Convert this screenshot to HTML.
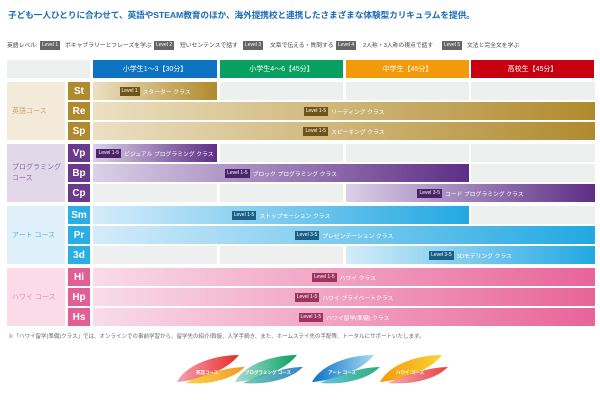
<!DOCTYPE html>
<html><head><meta charset="utf-8">
<style>
*{margin:0;padding:0;box-sizing:border-box}
body{width:600px;height:400px;background:#fff;position:relative;overflow:hidden;font-family:"Liberation Sans","Noto Sans CJK JP",sans-serif}
.a{position:absolute}
.title{left:8px;top:8px;font-size:8.7px;color:#1a6bb8;font-weight:bold;white-space:nowrap;letter-spacing:-0.1px}
.lt{top:42px;font-size:5.8px;color:#444;white-space:nowrap;line-height:8px}
.badge{top:41px;height:9px;background:#666;color:#fff;font-size:5px;line-height:9px;padding:0 2px;white-space:nowrap}
.hd{top:60px;height:18px;color:#fff;font-size:7px;display:flex;align-items:center;justify-content:center}
.grp{left:7px;width:58px;font-size:7px;display:flex;align-items:center;padding-left:5px;line-height:11px}
.code{left:68px;width:22px;height:18px;color:#fff;font-weight:bold;font-size:10px;display:flex;align-items:center;justify-content:center}
.cell{height:18px;background:#eeefef}
.bar{height:18px;display:flex;align-items:center;justify-content:center;color:#fff;font-size:5.8px;white-space:nowrap}
.bar .b{font-size:5px;padding:1px 2px;margin-right:3px;line-height:7px;color:#fff}
.foot{left:8px;top:332px;font-size:5.5px;color:#666;white-space:nowrap}
</style></head><body>
<div class="a title">子ども一人ひとりに合わせて、英語やSTEAM教育のほか、海外提携校と連携したさまざまな体験型カリキュラムを提供。</div>
<div class="a lt" style="left:7px">英語レベル:</div>
<div class="a badge" style="left:40px">Level 1</div>
<div class="a lt" style="left:65px">ボキャブラリーとフレーズを学ぶ</div>
<div class="a badge" style="left:154px">Level 2</div>
<div class="a lt" style="left:180px">短いセンテンスで話す</div>
<div class="a badge" style="left:243px">Level 3</div>
<div class="a lt" style="left:270px">文章で伝える・質問する</div>
<div class="a badge" style="left:336px">Level 4</div>
<div class="a lt" style="left:363px">2人称・3人称の視点で話す</div>
<div class="a badge" style="left:442px">Level 5</div>
<div class="a lt" style="left:467px">文法と完全文を学ぶ</div>

<div class="a hd" style="left:7px;width:83px;background:#eeefef"></div>
<div class="a hd" style="left:93px;width:124px;background:#0c72c2">小学生1〜3【30分】</div>
<div class="a hd" style="left:220px;width:123px;background:#08a060">小学生4〜6【45分】</div>
<div class="a hd" style="left:346px;width:123px;background:#f39a0a">中学生【45分】</div>
<div class="a hd" style="left:471px;width:123px;background:#c8000f">高校生【45分】</div>

<div id="grid"></div>
<div class="a foot">※「ハワイ留学(準備)クラス」では、オンラインでの事前学習から、留学先の紹介/斡旋、入学手続き、また、ホームステイ先の手配等、トータルにサポートいたします。</div>

<svg class="a" style="left:0;top:345px" width="600" height="45">
<defs>
<linearGradient id="g1" x1="0" x2="1"><stop offset="0" stop-color="#f4a0b0"/><stop offset="1" stop-color="#e52d27"/></linearGradient>
<linearGradient id="g1b" x1="0" x2="1"><stop offset="0" stop-color="#fbd235"/><stop offset="1" stop-color="#f28b0c"/></linearGradient>
<linearGradient id="g2" x1="0" x2="1"><stop offset="0" stop-color="#a8dcd4"/><stop offset="1" stop-color="#08a060"/></linearGradient>
<linearGradient id="g2b" x1="0" x2="1"><stop offset="0" stop-color="#5fc0a0"/><stop offset="1" stop-color="#0c72c2"/></linearGradient>
<linearGradient id="g3" x1="0" x2="1"><stop offset="0" stop-color="#0c72c2"/><stop offset="1" stop-color="#a8d8f4"/></linearGradient>
<linearGradient id="g3b" x1="0" x2="1"><stop offset="0" stop-color="#4fb8e0"/><stop offset="1" stop-color="#08a060"/></linearGradient>
<linearGradient id="g4" x1="0" x2="1"><stop offset="0" stop-color="#f39a0a"/><stop offset="1" stop-color="#fbd235"/></linearGradient>
<linearGradient id="g4b" x1="0" x2="1"><stop offset="0" stop-color="#f4a0b0"/><stop offset="1" stop-color="#e52d27"/></linearGradient>
</defs>
<g transform="translate(177,10)"><path d="M0,27 C10,8 40,0 62,0 C50,15 25,25 0,27Z" fill="url(#g1)"/><path d="M8,28 C25,20 50,12 68,12 C55,25 30,30 8,28Z" fill="url(#g1b)" opacity=".9"/><text x="30" y="19" font-size="4.5" fill="#fff" text-anchor="middle" font-family="Liberation Sans,Noto Sans CJK JP,sans-serif" font-weight="bold">英語コース</text></g>
<g transform="translate(235,10)"><path d="M0,27 C10,8 40,0 62,0 C50,15 25,25 0,27Z" fill="url(#g2)"/><path d="M8,28 C25,20 50,12 68,12 C55,25 30,30 8,28Z" fill="url(#g2b)" opacity=".85"/><text x="33" y="19" font-size="4.5" fill="#fff" text-anchor="middle" font-family="Liberation Sans,Noto Sans CJK JP,sans-serif" font-weight="bold">プログラミング コース</text></g>
<g transform="translate(312,10)"><path d="M0,27 C10,8 40,0 62,0 C50,15 25,25 0,27Z" fill="url(#g3)"/><path d="M8,28 C25,20 50,12 68,12 C55,25 30,30 8,28Z" fill="url(#g3b)" opacity=".85"/><text x="30" y="19" font-size="4.5" fill="#fff" text-anchor="middle" font-family="Liberation Sans,Noto Sans CJK JP,sans-serif" font-weight="bold">アート コース</text></g>
<g transform="translate(380,10)"><path d="M0,27 C10,8 40,0 62,0 C50,15 25,25 0,27Z" fill="url(#g4)"/><path d="M8,28 C25,20 50,12 68,12 C55,25 30,30 8,28Z" fill="url(#g4b)" opacity=".9"/><text x="30" y="19" font-size="4.5" fill="#fff" text-anchor="middle" font-family="Liberation Sans,Noto Sans CJK JP,sans-serif" font-weight="bold">ハワイ コース</text></g>
</svg>

<script>
const groupNames=["英語コース","プログラミング\nコース","アート コース","ハワイ コース"];
const groupKeys=["english","programming","art","hawaii"];
const codes=["St","Re","Sp","Vp","Bp","Cp","Sm","Pr","3d","Hi","Hp","Hs"];
const barStart=[0,0,0,0,0,2,0,0,2,0,0,0];
const barEnd=[0,3,3,0,2,3,2,3,3,3,3,3];
const levels=["Level 1","Level 1-5","Level 1-5","Level 1-5","Level 1-5","Level 3-5","Level 1-5","Level 3-5","Level 3-5","Level 1-5","Level 1-5","Level 1-5"];
const classNames=["スターター クラス","リーディング クラス","スピーキング クラス","ビジュアル プログラミング クラス","ブロック プログラミング クラス","コード プログラミング クラス","ストップモーション クラス","プレゼンテーション クラス","3Dモデリング クラス","ハワイ クラス","ハワイ プライベートクラス","ハワイ留学(準備) クラス"];
const theme=[
 {code:"#b08a2e",bg:"#f3ead9",txt:"#c9a86a",from:"#ece0c2",to:"#b08a2e",badge:"#6e5418"},
 {code:"#6a3a8c",bg:"#e3d7ea",txt:"#8a65a8",from:"#dcd0e8",to:"#5e2e86",badge:"#4a2468"},
 {code:"#2aaee3",bg:"#dff0fb",txt:"#4fb8e8",from:"#d4ecfa",to:"#22a8e2",badge:"#1a5f86"},
 {code:"#e25f95",bg:"#fadbe7",txt:"#ec8fb5",from:"#f9dce8",to:"#e8649a",badge:"#9b3460"}];
const colX=[93,220,346,471], colW=[124,123,123,124];
const grid=document.getElementById('grid');
function rowY(i){return 82+Math.floor(i/3)*62+(i%3)*20;}
groupNames.forEach((g,gi)=>{
  const t=theme[gi];
  const d=document.createElement('div');
  d.className='a grp';
  d.style.cssText=`top:${rowY(gi*3)}px;height:58px;background:${t.bg};color:${t.txt}`;
  d.innerHTML=g.replace('\n','<br>');
  
  
  grid.appendChild(d);
});
codes.forEach((c,i)=>{
  const t=theme[Math.floor(i/3)], y=rowY(i);
  const cd=document.createElement('div');
  cd.className='a code';cd.style.cssText=`top:${y}px;background:${t.code}`;cd.textContent=c;
  
  
  grid.appendChild(cd);
  for(let k=0;k<4;k++){
    if(k>=barStart[i]&&k<=barEnd[i])continue;
    const ce=document.createElement('div');
    ce.className='a cell';ce.style.cssText=`top:${y}px;left:${colX[k]}px;width:${colW[k]}px`;
    
    
    grid.appendChild(ce);
  }
  const x0=colX[barStart[i]], x1=colX[barEnd[i]]+colW[barEnd[i]];
  const b=document.createElement('div');
  b.className='a bar';
  b.style.cssText=`top:${y}px;left:${x0}px;width:${x1-x0}px;background:linear-gradient(90deg,${t.from},${t.to})`;
  b.innerHTML=`<span class="b" style="background:${t.badge}">${levels[i]}</span>${classNames[i]}`;
  
  
  grid.appendChild(b);
});
</script>
</body></html>
